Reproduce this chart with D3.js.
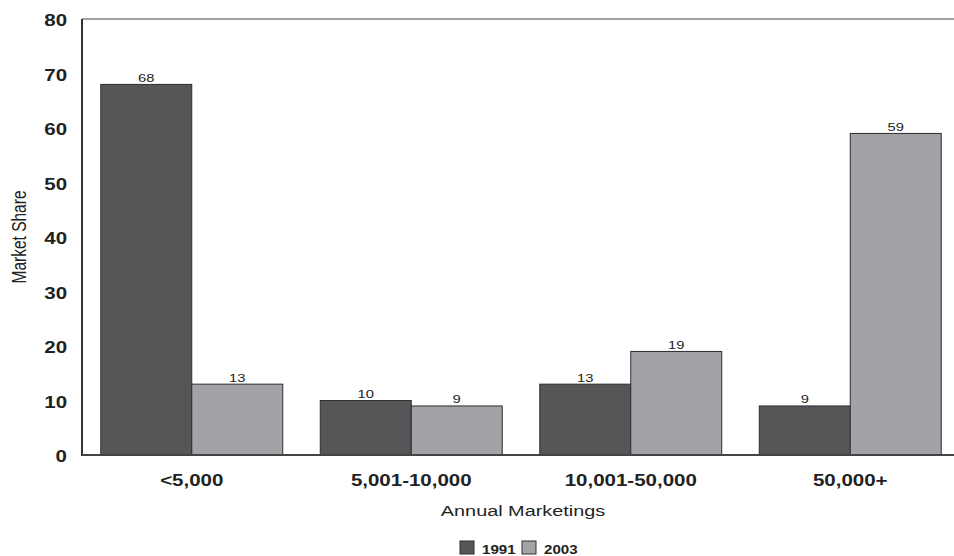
<!DOCTYPE html>
<html><head><meta charset="utf-8">
<script src="https://cdn.jsdelivr.net/npm/d3@7"></script>
<style>body{margin:0;background:#fff}svg{display:block;font-family:"Liberation Sans",Arial,Helvetica,sans-serif}</style>
</head><body>
<svg id="c" width="954" height="556"></svg>
<script>
const categories = ["<5,000", "5,001-10,000", "10,001-50,000", "50,000+"];
const seriesNames = ["1991", "2003"];
const values1991 = [68, 10, 13, 9];
const values2003 = [13, 9, 19, 59];
const yTicks = [0, 10, 20, 30, 40, 50, 60, 70, 80];
const colors = ["#555658", "#a2a3a6"];

(function () {
const K = 1.28; // horizontal text stretch seen in the reference
function stretch(sel, k) {
  const f = k || K;
  sel.each(function () {
    const w = this.getComputedTextLength();
    this.setAttribute("textLength", w * f);
    this.setAttribute("lengthAdjust", "spacingAndGlyphs");
  });
}
const svg = d3.select("#c");
const pLeft = 82, pTop = 19, pBottom = 455, pRightEnd = 960;
const x = d3.scaleBand().domain(categories).range([pLeft, pRightEnd]).paddingInner(0.171).paddingOuter(0.0855);
const xs = d3.scaleBand().domain(seriesNames).range([0, x.bandwidth()]);
const y = d3.scaleLinear().domain([0, 80]).range([pBottom, pTop]);

svg.append("line").attr("x1", pLeft).attr("x2", 954).attr("y1", pTop).attr("y2", pTop).attr("stroke", "#444").attr("stroke-width", 1.2);

const data = categories.map((c, i) => ({cat: c, vals: [values1991[i], values2003[i]]}));
const g = svg.append("g").selectAll("g").data(data).join("g").attr("transform", d => `translate(${x(d.cat)},0)`);
g.selectAll("rect").data(d => d.vals.map((v, j) => ({s: seriesNames[j], v, j}))).join("rect")
  .attr("x", d => xs(d.s)).attr("width", xs.bandwidth())
  .attr("y", d => y(d.v)).attr("height", d => y(0) - y(d.v))
  .attr("fill", d => colors[d.j]).attr("stroke", "#2e2e30").attr("stroke-width", 1);
g.selectAll("text.v").data(d => d.vals.map((v, j) => ({s: seriesNames[j], v}))).join("text")
  .attr("class", "v").attr("x", d => xs(d.s) + xs.bandwidth() / 2).attr("y", d => y(d.v) - 2.5)
  .attr("text-anchor", "middle").attr("font-size", 11.5).attr("fill", "#222").text(d => d.v)
  .call(stretch);

svg.append("line").attr("x1", pLeft).attr("x2", pLeft).attr("y1", pTop).attr("y2", pBottom + 1).attr("stroke", "#333").attr("stroke-width", 2);
svg.append("line").attr("x1", pLeft).attr("x2", 954).attr("y1", pBottom).attr("y2", pBottom).attr("stroke", "#444").attr("stroke-width", 2);

const yAxis = d3.axisLeft(y).tickValues(yTicks).tickSize(0).tickPadding(15);
const ya = svg.append("g").attr("transform", `translate(${pLeft},0)`).call(yAxis);
ya.select(".domain").remove();
ya.selectAll("text").attr("font-size", 16).attr("font-weight", "bold").attr("fill", "#222")
  .attr("font-family", '"Liberation Sans",Arial,sans-serif').attr("dy", "0.42em").call(stretch);

const xAxis = d3.axisBottom(x).tickSize(0).tickPadding(20);
const xa = svg.append("g").attr("transform", `translate(0,${pBottom})`).call(xAxis);
xa.select(".domain").remove();
xa.selectAll("text").attr("font-size", 16).attr("font-weight", "bold").attr("fill", "#222")
  .attr("font-family", '"Liberation Sans",Arial,sans-serif').call(stretch);

svg.append("text").attr("x", 523).attr("y", 516).attr("text-anchor", "middle").attr("font-size", 15.5).attr("fill", "#222").text("Annual Marketings").call(stretch);
svg.append("text").attr("transform", `translate(26,237) scale(${K},1) rotate(-90)`).attr("text-anchor", "middle").attr("font-size", 15.5).attr("fill", "#222").text("Market Share");

const lg = svg.append("g");
const lx = [460, 522];
seriesNames.forEach((s, i) => {
  lg.append("rect").attr("x", lx[i]).attr("y", 541).attr("width", 14).attr("height", 13).attr("fill", colors[i]).attr("stroke", "#2e2e30");
  lg.append("text").attr("x", lx[i] + 22).attr("y", 554).attr("font-size", 13.5).attr("font-weight", "bold").attr("fill", "#222").text(s).call(stretch, 1.12);
});
})();
</script>
</body></html>
